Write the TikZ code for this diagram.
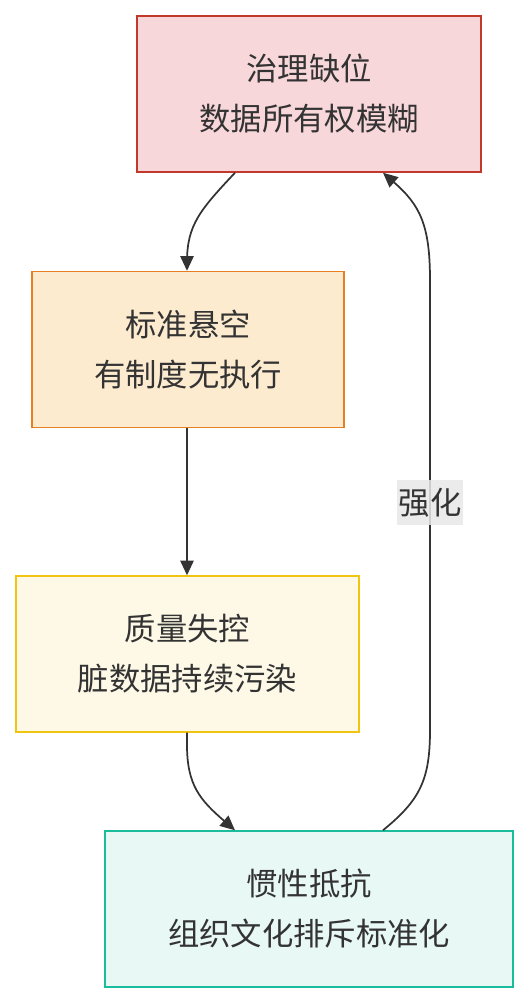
\documentclass[tikz,border=0pt]{standalone}
\usepackage{fontspec}
\setmainfont{Noto Sans CJK SC}
\usetikzlibrary{arrows.meta}
\definecolor{ink}{HTML}{333333}
\definecolor{f1}{HTML}{F8D7DA}\definecolor{s1}{HTML}{C0392B}
\definecolor{f2}{HTML}{FDEBD0}\definecolor{s2}{HTML}{E67E22}
\definecolor{f3}{HTML}{FEF9E7}\definecolor{s3}{HTML}{F1C40F}
\definecolor{f4}{HTML}{E8F8F5}\definecolor{s4}{HTML}{1ABC9C}
\definecolor{lbl}{HTML}{E8E8E8}
\tikzset{
  box/.style={draw, line width=1.1pt, inner sep=0pt, align=center, text=ink,
    font=\fontsize{23.5}{37.5}\selectfont, minimum height=117pt},
  conn/.style={draw=ink, line width=1.3pt, -{Triangle[length=11pt,width=10pt]}},
  lab/.style={fill=lbl, fill opacity=0.85, text opacity=1, text=ink, inner xsep=1pt, inner ysep=6pt,
    font=\fontsize{23.5}{26}\selectfont}
}
\begin{document}
\begin{tikzpicture}[x=0.75pt,y=-0.75pt]
\useasboundingbox (0,0) rectangle (529,1004);
\node[box, fill=f1, draw=s1, minimum width=258pt] (b1) at (309,94) {治理缺位\\数据所有权模糊};
\node[box, fill=f2, draw=s2, minimum width=234pt] (b2) at (188,349.5) {标准悬空\\有制度无执行};
\node[box, fill=f3, draw=s3, minimum width=257.25pt] (b3) at (187.5,654) {质量失控\\脏数据持续污染};
\node[box, fill=f4, draw=s4, minimum width=306pt] (b4) at (309,909) {惯性抵抗\\组织文化排斥标准化};
\coordinate (a1s) at ([xshift=-55.5pt]b1.south);
\coordinate (c4e) at ([xshift=-55.5pt]b4.north);
\coordinate (d4s) at ([xshift=55.5pt]b4.north);
\coordinate (d1e) at ([xshift=55.5pt]b1.south);
\draw[conn] (a1s) .. controls (200,210) and (187,225) .. (187,262) -- (b2.north -| 187,0);
\draw[conn] (b2.south -| 187,0) -- (b3.north -| 187,0);
\draw[conn] (b3.south -| 187,0) -- (187,745) .. controls (187,785) and (200,800) .. (c4e);
\draw[conn] (d4s) .. controls (420,800) and (430,780) .. (430,730) -- (430,280)
  node[lab, pos=0.505] (l) {强化} .. controls (430,225) and (420,205) .. (d1e);
\end{tikzpicture}
\end{document}
